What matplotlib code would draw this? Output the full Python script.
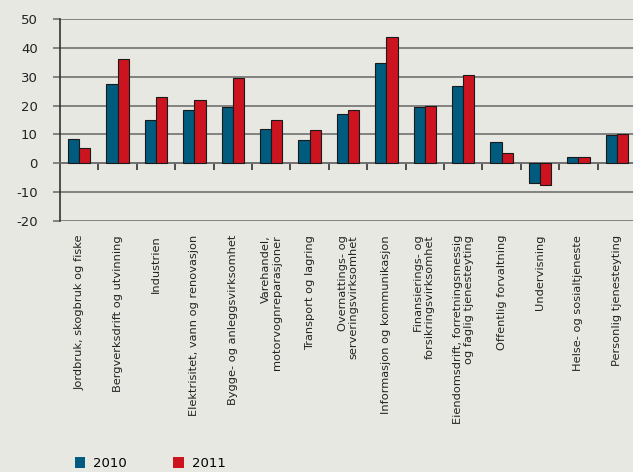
import numpy as np
import matplotlib.pyplot as plt
from matplotlib.patches import Patch

# Data
categories = [
    'Jordbruk, skogbruk og fiske',
    'Bergverksdrift og utvinning',
    'Industrien',
    'Elektrisitet, vann og renovasjon',
    'Bygge- og anleggsvirksomhet',
    'Varehandel,\nmotorvognreparasjoner',
    'Transport og lagring',
    'Overnattings- og\nserveringsvirksomhet',
    'Informasjon og kommunikasjon',
    'Finansierings- og\nforsikringsvirksomhet',
    'Eiendomsdrift, forretningsmessig\nog faglig tjenesteyting',
    'Offentlig forvaltning',
    'Undervisning',
    'Helse- og sosialtjeneste',
    'Personlig tjenesteyting',
]
values_2010 = [8.4, 27.4, 15.1, 18.4, 19.6, 11.9, 8.2, 17.1, 34.9, 19.5, 26.7, 7.4, -6.9, 2.3, 9.9]
values_2011 = [5.2, 36.0, 22.9, 22.0, 29.7, 15.1, 11.5, 18.4, 43.9, 19.8, 30.6, 3.6, -7.6, 2.3, 10.1]
y_ticks = [-20, -10, 0, 10, 20, 30, 40, 50]

bg = '#E8E8E3'
blue = '#005B7F'
red = '#CC1420'
grid_col = '#707070'

plt.rcParams['font.family'] = ['Liberation Sans Narrow', 'DejaVu Sans']
plt.rcParams['axes.unicode_minus'] = False

fig = plt.figure(figsize=(6.33, 4.72), dpi=100, facecolor=bg)
ax = fig.add_axes([60 / 633, 1 - 221 / 472, 573 / 633, 202 / 472])
ax.set_facecolor(bg)

x = np.arange(len(categories))
w = 0.29
ax.bar(x - w / 2, values_2010, w, color=blue, edgecolor='#1a1a1a', linewidth=0.8, zorder=3)
ax.bar(x + w / 2, values_2011, w, color=red, edgecolor='#1a1a1a', linewidth=0.8, zorder=3)

ax.set_ylim(-20, 50)
ax.set_xlim(-0.5, -0.5 + 573 / 38.4)
ax.set_yticks(y_ticks)
ax.yaxis.grid(True, color=grid_col, linewidth=1.2, zorder=0)
ax.tick_params(axis='y', length=5, width=1.2, color=grid_col, pad=11, labelsize=9.5, labelcolor='#222222')

for s in ['top', 'right']:
    ax.spines[s].set_visible(False)
ax.spines['left'].set_color('#333333')
ax.spines['left'].set_linewidth(1.2)
# bottom spine acts as the zero line with the category dividers
ax.spines['bottom'].set_position(('data', 0))
ax.spines['bottom'].set_color(grid_col)
ax.spines['bottom'].set_linewidth(1.2)
ax.set_xticks(np.arange(0.5, len(categories) - 1, 1.0))
ax.set_xticklabels([])
ax.tick_params(axis='x', length=5, width=1.2, color='#333333', direction='out')

for i, lab in enumerate(categories):
    ax.annotate(lab, xy=(i, 0), xycoords=('data', 'axes fraction'),
                xytext=(0, -10), textcoords='offset points',
                rotation=90, ha='center', va='top', multialignment='right',
                fontsize=8.2, color='#222222', linespacing=1.1)

handles = [Patch(facecolor=blue, edgecolor='none'), Patch(facecolor=red, edgecolor='none')]
fig.legend(handles, ['2010', '2011'], loc='lower left', bbox_to_anchor=(63 / 633, -10 / 472),
           ncol=2, frameon=False, fontsize=9.5, handlelength=0.8, handleheight=0.8,
           handletextpad=0.6, columnspacing=3.5)

fig.savefig('out.png', dpi=100, facecolor=bg)
